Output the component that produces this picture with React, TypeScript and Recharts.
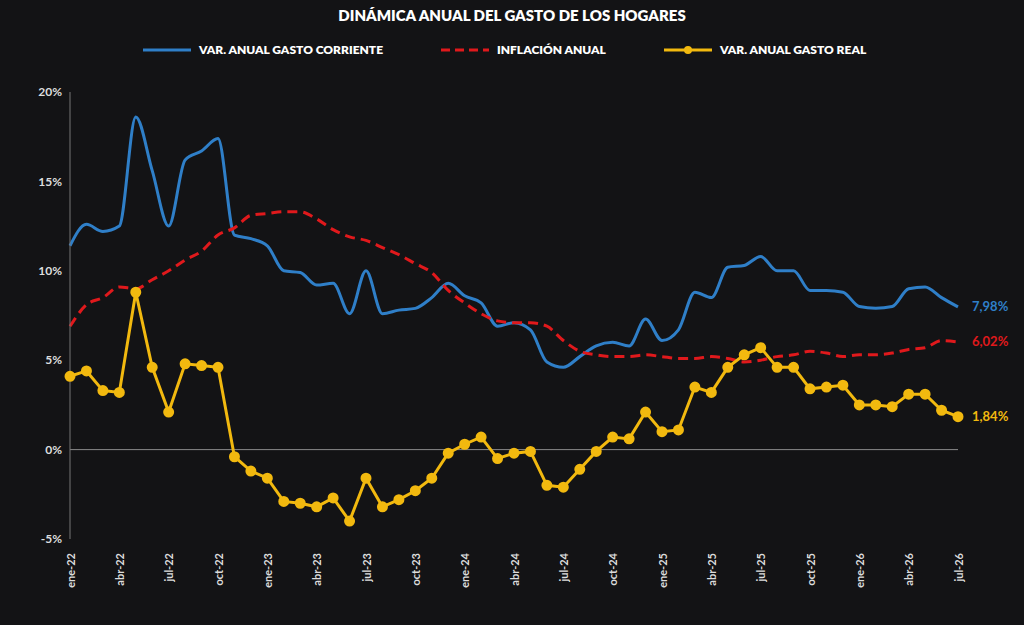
import { LineChart, Line, XAxis, YAxis, ReferenceLine } from "recharts";

const MESES = ["ene", "feb", "mar", "abr", "may", "jun", "jul", "ago", "sep", "oct", "nov", "dic"];
const months: string[] = [];
for (let y = 22; y <= 26; y++) for (const m of MESES) months.push(`${m}-${y}`);
const categories = months.slice(0, 55);

const gastoCorriente = [
  11.4, 12.6, 12.2, 12.5, 18.6, 15.6, 12.5, 16.2, 16.7, 17.4, 12.0, 11.8,
  11.4, 10.0, 9.9, 9.2, 9.3, 7.6, 10.0, 7.6, 7.8, 7.9, 8.5, 9.3,
  8.6, 8.2, 6.9, 7.1, 6.7, 4.9, 4.6, 5.2, 5.8, 6.0, 5.8, 7.3,
  6.1, 6.7, 8.8, 8.5, 10.2, 10.3, 10.8, 10.0, 10.0, 8.9, 8.9, 8.8,
  8.0, 7.9, 8.0, 9.0, 9.1, 8.5, 7.98,
];
const inflacion = [
  6.9, 8.1, 8.5, 9.1, 9.0, 9.5, 10.0, 10.6, 11.1, 12.0, 12.4, 13.1,
  13.2, 13.3, 13.3, 12.9, 12.3, 11.9, 11.7, 11.3, 10.9, 10.4, 9.9, 8.9,
  8.2, 7.6, 7.2, 7.1, 7.1, 6.9, 6.1, 5.5, 5.3, 5.2, 5.2, 5.3,
  5.2, 5.1, 5.1, 5.2, 5.1, 4.9, 5.0, 5.2, 5.3, 5.5, 5.4, 5.2,
  5.3, 5.3, 5.4, 5.6, 5.7, 6.1, 6.02,
];
const gastoReal = [
  4.1, 4.4, 3.3, 3.2, 8.8, 4.6, 2.1, 4.8, 4.7, 4.6, -0.4, -1.2,
  -1.6, -2.9, -3.0, -3.2, -2.7, -4.0, -1.6, -3.2, -2.8, -2.3, -1.6, -0.2,
  0.3, 0.7, -0.5, -0.2, -0.1, -2.0, -2.1, -1.1, -0.1, 0.7, 0.6, 2.1,
  1.0, 1.1, 3.5, 3.2, 4.6, 5.3, 5.7, 4.6, 4.6, 3.4, 3.5, 3.6,
  2.5, 2.5, 2.4, 3.1, 3.1, 2.2, 1.84,
];
const yTicks = [-5, 0, 5, 10, 15, 20];

const data = categories.map((mes, i) => ({
  mes,
  corriente: gastoCorriente[i],
  inflacion: inflacion[i],
  real: gastoReal[i],
}));

const BLUE = "#2f7fc8";
const RED = "#e0191c";
const GOLD = "#f2b90f";
const LAST = categories.length - 1;

const endLabel = (color: string) => (p: any) => {
  if (p.index !== LAST) return null;
  return (
    <text x={p.x + 14} y={p.y + 4} fill={color} fontSize={13} fontWeight={700}>
      {p.value.toFixed(2).replace(".", ",")}%
    </text>
  );
};

const XTick = (p: any) => (
  <text x={p.x} y={p.y + 6} transform={`rotate(-90 ${p.x} ${p.y + 6})`} textAnchor="end" dominantBaseline="central" fill="#ddd" fontSize={11} fontWeight={700}>
    {p.payload.value}
  </text>
);

function LegendItem({ color, dashed, dot, text }: { color: string; dashed?: boolean; dot?: boolean; text: string }) {
  return (
    <div style={{ display: "flex", alignItems: "center", gap: 8 }}>
      <svg width={48} height={10}>
        <line x1={0} x2={48} y1={5} y2={5} stroke={color} strokeWidth={3} strokeDasharray={dashed ? "9 5" : undefined} />
        {dot && <circle cx={24} cy={5} r={4} fill={color} />}
      </svg>
      <span>{text}</span>
    </div>
  );
}

export default function App() {
  return (
    <div style={{ position: "absolute", left: 0, top: 0, width: 1024, height: 625, background: "#131315", fontFamily: "Lato, 'Open Sans', sans-serif", color: "#fff" }}>
      <div style={{ position: "absolute", top: 6, width: 1024, textAlign: "center", fontSize: 15, fontWeight: 800 }}>
        DINÁMICA ANUAL DEL GASTO DE LOS HOGARES
      </div>
      <div style={{ position: "absolute", top: 42, left: 143, display: "flex", gap: 58, fontSize: 12, fontWeight: 800 }}>
        <LegendItem color={BLUE} text="VAR. ANUAL GASTO CORRIENTE" />
        <LegendItem color={RED} dashed text="INFLACIÓN ANUAL" />
        <LegendItem color={GOLD} dot text="VAR. ANUAL GASTO REAL" />
      </div>
      <LineChart width={1024} height={625} data={data} margin={{ top: 92, right: 66, bottom: 26, left: 0 }}>
        <XAxis dataKey="mes" interval={2} tick={<XTick />} tickLine={false} axisLine={false} height={60} />
        <YAxis domain={[-5, 20]} ticks={yTicks} width={70} tickFormatter={(v) => `${v}%`} tick={{ fill: "#ddd", fontSize: 12, fontWeight: 700 }} tickLine={false} axisLine={{ stroke: "#777" }} />
        <ReferenceLine y={0} stroke="#888" />
        <Line dataKey="corriente" stroke={BLUE} strokeWidth={3} dot={false} type="monotone" isAnimationActive={false} label={endLabel(BLUE)} />
        <Line dataKey="inflacion" stroke={RED} strokeWidth={3} strokeDasharray="10 6" dot={false} type="monotone" isAnimationActive={false} label={endLabel(RED)} />
        <Line dataKey="real" stroke={GOLD} strokeWidth={3} dot={{ r: 4, fill: GOLD, stroke: GOLD }} type="linear" isAnimationActive={false} label={endLabel(GOLD)} />
      </LineChart>
    </div>
  );
}
